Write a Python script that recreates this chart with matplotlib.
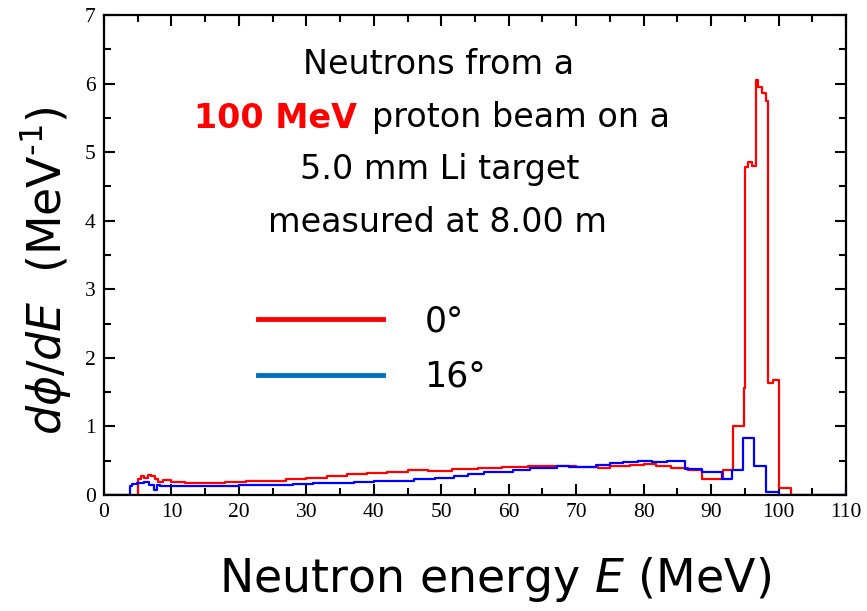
import matplotlib
matplotlib.use("Agg")
import matplotlib.pyplot as plt
from matplotlib.lines import Line2D
from matplotlib.ticker import MultipleLocator

# step spectra: bin edges (MeV) and dphi/dE (MeV^-1)
e_0deg = [0, 5.0, 5.5, 6.0, 6.5, 7.0, 7.5, 8.0, 8.7, 10, 12, 15, 18, 21, 24, 27,
          30, 33, 36, 39, 42, 45, 48, 51.6, 55.5, 59, 62.9, 66, 70, 73.3, 75, 78,
          80, 81.8, 84, 86.6, 88.6, 91.8, 93.2, 94.9, 95.1, 95.5, 96.0, 96.6,
          97.0, 97.6, 98.2, 98.5, 99.2, 100.1, 101.9, 110]
f_0deg = [0, 0.23, 0.27, 0.25, 0.29, 0.27, 0.24, 0.19, 0.22, 0.19, 0.18, 0.18,
          0.19, 0.20, 0.21, 0.23, 0.25, 0.27, 0.30, 0.32, 0.34, 0.37, 0.35, 0.38,
          0.40, 0.41, 0.42, 0.42, 0.41, 0.39, 0.42, 0.44, 0.45, 0.42, 0.39, 0.37,
          0.23, 0.37, 1.0, 1.56, 4.79, 4.85, 4.8, 6.05, 5.95, 5.86, 5.75, 1.63,
          1.68, 0.1, 0, 0]

e_16deg = [0, 3.8, 4.1, 4.9, 6.0, 6.6, 7.4, 7.8, 8.3, 10, 15, 20, 25, 28, 31,
           34, 37, 40, 43, 46, 49, 51.9, 54, 56.3, 60.7, 63.2, 67.1, 69, 73, 75,
           77, 79.2, 81.2, 83.4, 86.1, 88.6, 91.6, 93.1, 94.8, 96.4, 98.2, 100.1,
           110]
f_16deg = [0, 0.13, 0.16, 0.17, 0.19, 0.15, 0.08, 0.145, 0.13, 0.13, 0.13, 0.14,
           0.15, 0.16, 0.17, 0.18, 0.19, 0.20, 0.21, 0.23, 0.25, 0.28, 0.30, 0.34,
           0.36, 0.40, 0.43, 0.41, 0.44, 0.46, 0.48, 0.49, 0.48, 0.49, 0.38, 0.34,
           0.24, 0.37, 0.83, 0.42, 0.05, 0, 0]

labels = ["0°", "16°"]

plt.rcParams['mathtext.fontset'] = 'dejavusans'
W, H = 867, 611
fig = plt.figure(figsize=(W / 100, H / 100), dpi=100)
ax = fig.add_axes([104 / W, 1 - 495 / H, (846 - 104) / W, (495 - 15) / H])

ax.step(e_0deg, f_0deg, where='post', color='#ff0000', lw=1.6)
ax.step(e_16deg, f_16deg, where='post', color='#0000ff', lw=1.6)

ax.set_xlim(0, 110)
ax.set_ylim(0, 7)
ax.xaxis.set_major_locator(MultipleLocator(10))
ax.xaxis.set_minor_locator(MultipleLocator(5))
ax.yaxis.set_major_locator(MultipleLocator(1))
ax.yaxis.set_minor_locator(MultipleLocator(0.5))
ax.tick_params(which='both', direction='in', top=True, right=True, width=1.5)
ax.tick_params(which='major', length=8, labelsize=15.5, pad=6)
ax.tick_params(which='minor', length=5)
for lab in ax.get_xticklabels() + ax.get_yticklabels():
    lab.set_fontfamily('Liberation Serif')
for s in ax.spines.values():
    s.set_linewidth(1.6)

handles = [Line2D([], [], color='#ff0000', lw=3.5),
           Line2D([], [], color='#0070c0', lw=3.5)]
leg = ax.legend(handles, labels, frameon=False, loc='center',
                bbox_to_anchor=(372 / W, 1 - 349 / H), bbox_transform=fig.transFigure,
                prop={'family': 'DejaVu Sans', 'size': 25}, handlelength=3.6,
                handletextpad=1.2, labelspacing=0.62)

note_font = {'family': 'DejaVu Sans', 'size': 24}
fig.text(439 / W, 1 - 65 / H, "Neutrons from a", ha='center', va='center', **note_font)
fig.text(357 / W, 1 - 118 / H, "100 MeV", ha='right', va='center', color='#ff0000',
         fontweight='bold', **note_font)
fig.text(372 / W, 1 - 118 / H, "proton beam on a", ha='left', va='center', **note_font)
fig.text(440 / W, 1 - 170 / H, "5.0 mm Li target", ha='center', va='center', **note_font)
fig.text(438 / W, 1 - 222 / H, "measured at 8.00 m", ha='center', va='center', **note_font)

fig.text(495 / W, 1 - 580 / H, "Neutron energy $E$ (MeV)", ha='center', va='center',
         family='DejaVu Sans', size=33)
fig.text(46 / W, 1 - 271 / H, r"$d\phi/dE$  (MeV$^{\text{-1}}$)", ha='center',
         va='center', rotation=90, family='DejaVu Sans', size=33)

fig.savefig("out.png", dpi=100)
